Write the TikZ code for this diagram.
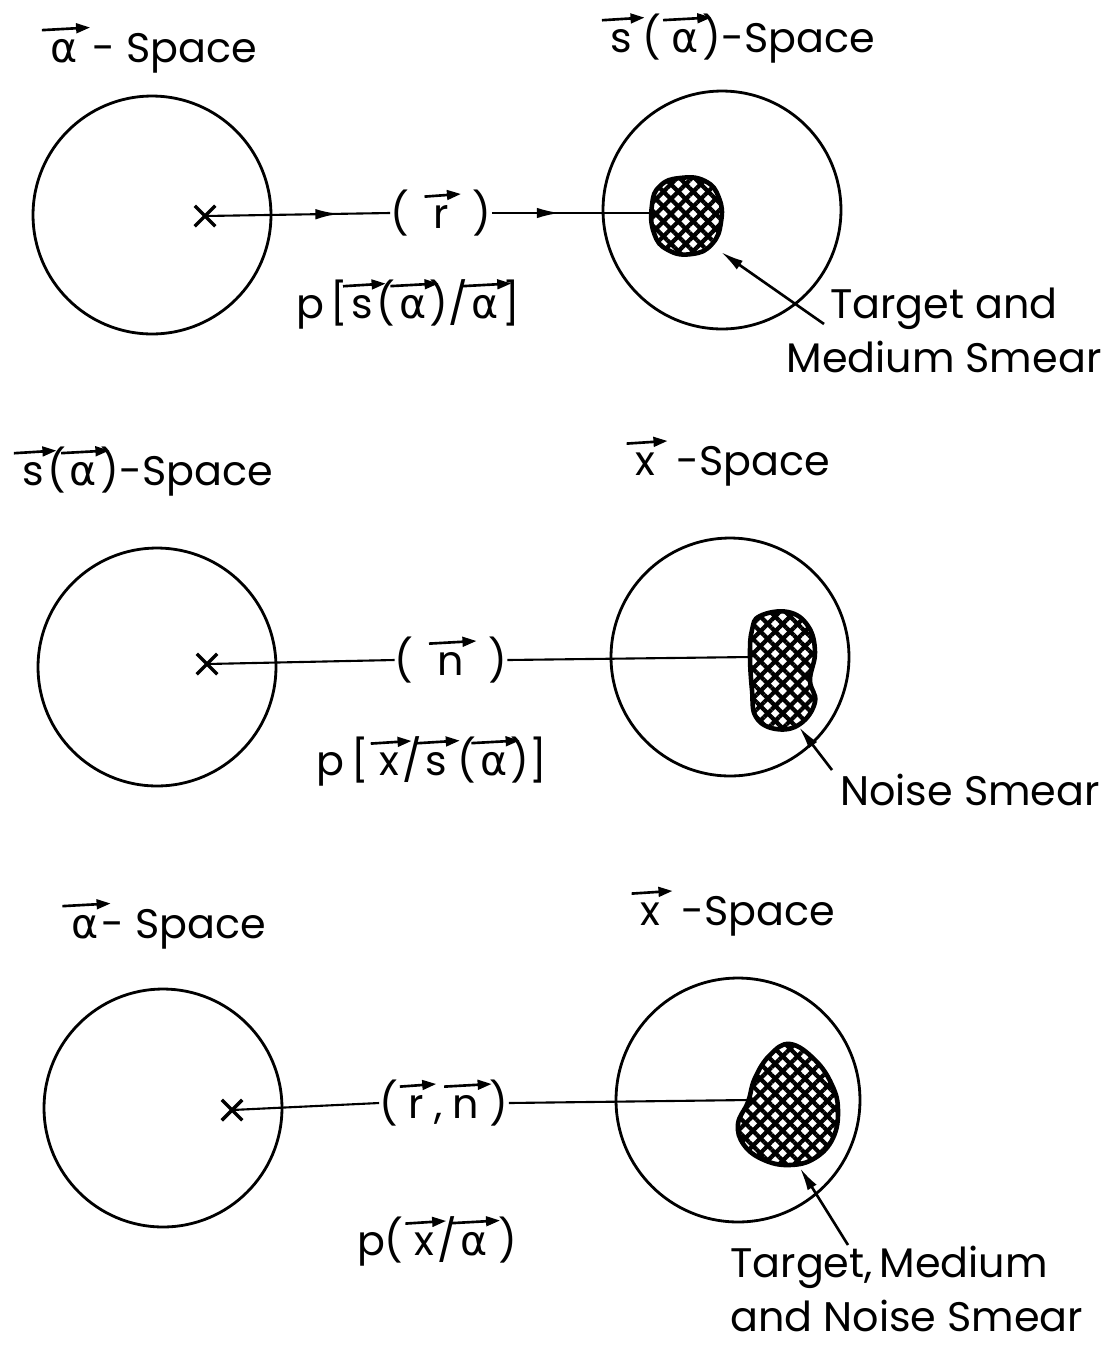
\documentclass[tikz,border=0pt]{standalone}
\usepackage{fontspec}
\setmainfont{Poppins}
\newfontfamily\greekfont{DejaVu Sans}
\usetikzlibrary{arrows.meta, positioning, shapes.misc, patterns.meta, decorations.markings}
% vector arrow drawn over a letter
\newcommand{\vecsym}[1]{\tikz[baseline=(v.base), x=1cm, y=1cm]{%
  \node[inner xsep=2pt, inner ysep=0pt, outer sep=0pt] (v) {#1};
  \draw[overlay, line width=1.5pt, -{Triangle[length=8pt, width=5.5pt]}]
    ([xshift=-3pt, yshift=5pt]v.north west) -- ([xshift=5pt, yshift=6.5pt]v.north east);}}
\newcommand{\valpha}{\vecsym{\greekfont α}}
\tikzset{
  spacecirc/.style={circle, draw=black, line width=1.6pt, inner sep=0,
                    minimum size=4.76cm},
  xmark/.style={cross out, draw=black, line width=2pt, inner sep=0,
                minimum size=0.34cm},
  txt/.style={font=\fontsize{23.5}{30.7}\selectfont, inner sep=0},
  spacelab/.style={txt, anchor=base},
  parlab/.style={txt},
  smearlab/.style={txt, align=center, anchor=base},
  smear/.style={draw=black, line width=2.6pt,
                preaction={pattern={Lines[angle=45, distance=6pt, line width=2.4pt]}},
                pattern={Lines[angle=-45, distance=6pt, line width=2.4pt]}},
  link/.style={line width=1.2pt},
  midarrow/.style={link, postaction={decorate}, decoration={markings,
                   mark=at position #1 with {\arrow{Latex[length=13pt, width=6pt]}}}},
  pointer/.style={line width=1.5pt, -{Latex[length=13pt, width=6pt]}},
}
\begin{document}
\begin{tikzpicture}[x=0.02cm, y=-0.02cm]
  \useasboundingbox (0,0) rectangle (1120,1347);

  % --- top row: alpha-space to s(alpha)-space ---
  \node[spacelab] (alab1) at (152,62) {\valpha\ - Space};
  \node[spacelab] (slab1) at (741,52) {\vecsym{s}\,(\,\valpha)-Space};
  \node[spacecirc] (acirc1) at (152,215) {};
  \node[spacecirc] (scirc1) at (722,210) {};
  \node[xmark] (xm1) at (205,216) {};
  \node[parlab] (rlab1) at (441,213) {(\enspace\vecsym{r}\enspace)};
  \draw[smear] plot[smooth cycle, tension=0.8] coordinates
    {(652,205) (660,186) (680,178) (705,181) (719,198) (721,222)
     (712,244) (692,254) (668,250) (654,233)};
  \coordinate (blobin1) at (653,213);
  \draw[midarrow=0.72] (xm1.center) -- (rlab1.west);
  \draw[midarrow=0.42] (rlab1.east) -- (blobin1);
  \node[spacelab] (plab1) at (408,318) {p\,[\vecsym{s}(\valpha)/\valpha]};
  \node[smearlab] (smlab1) at (944,372) {Target and\\Medium Smear};
  \coordinate (tail1) at (824,324);
  \coordinate (tip1) at (721,252);
  \draw[pointer] (tail1) -- (tip1);

  % --- middle row: s(alpha)-space to x-space ---
  \node[spacelab] (slab2) at (146,485) {\vecsym{s}(\valpha)-Space};
  \node[spacelab] (xlab2) at (731,475) {\vecsym{x}\, -Space};
  \node[spacecirc] (scirc2) at (157,667) {};
  \node[spacecirc] (xcirc2) at (730,657) {};
  \node[xmark] (xm2) at (207,664) {};
  \node[parlab] (nlab2) at (451,660) {(\enspace\vecsym{n}\enspace)};
  \draw[smear] plot[smooth cycle, tension=0.7] coordinates
    {(760,616) (788,612) (808,626) (815,652) (810,680) (815,702)
     (800,724) (776,729) (756,717) (752,690) (750,655) (752,630)};
  \coordinate (blobin2) at (751,657);
  \draw[link] (xm2.center) -- (nlab2.west);
  \draw[link] (nlab2.east) -- (blobin2);
  \node[spacelab] (plab2) at (432,775) {p\,[\,\vecsym{x}/\vecsym{s}\,(\valpha)]};
  \node[smearlab] (smlab2) at (970,805) {Noise Smear};
  \coordinate (tail2) at (832,770);
  \coordinate (tip2) at (799,727);
  \draw[pointer] (tail2) -- (tip2);

  % --- bottom row: alpha-space to x-space ---
  \node[spacelab] (alab3) at (167,938) {\valpha- Space};
  \node[spacelab] (xlab3) at (736,925) {\vecsym{x}\, -Space};
  \node[spacecirc] (acirc3) at (163,1108) {};
  \node[spacecirc, minimum size=4.88cm] (xcirc3) at (738,1100) {};
  \node[xmark] (xm3) at (232,1110) {};
  \node[parlab] (rnlab3) at (444,1103) {(\,\vecsym{r}\,,\,\vecsym{n}\,)};
  \draw[smear] plot[smooth cycle, tension=0.7] coordinates
    {(790,1044) (815,1060) (832,1085) (838,1110) (833,1138) (815,1158)
     (790,1165) (764,1160) (744,1145) (738,1124) (748,1102) (755,1078)
     (770,1055)};
  \coordinate (blobin3) at (749,1100);
  \draw[link] (xm3.center) -- (rnlab3.west);
  \draw[link] (rnlab3.east) -- (blobin3);
  \node[spacelab] (plab3) at (437,1255) {p(\,\vecsym{x}/\valpha\,)};
  \node[txt, align=left, anchor=base west] (smlab3) at (730,1331)
       {Target,\,Medium\\and Noise Smear};
  \coordinate (tail3) at (848,1245);
  \coordinate (tip3) at (800,1168);
  \draw[pointer] (tail3) -- (tip3);

\end{tikzpicture}
\end{document}
